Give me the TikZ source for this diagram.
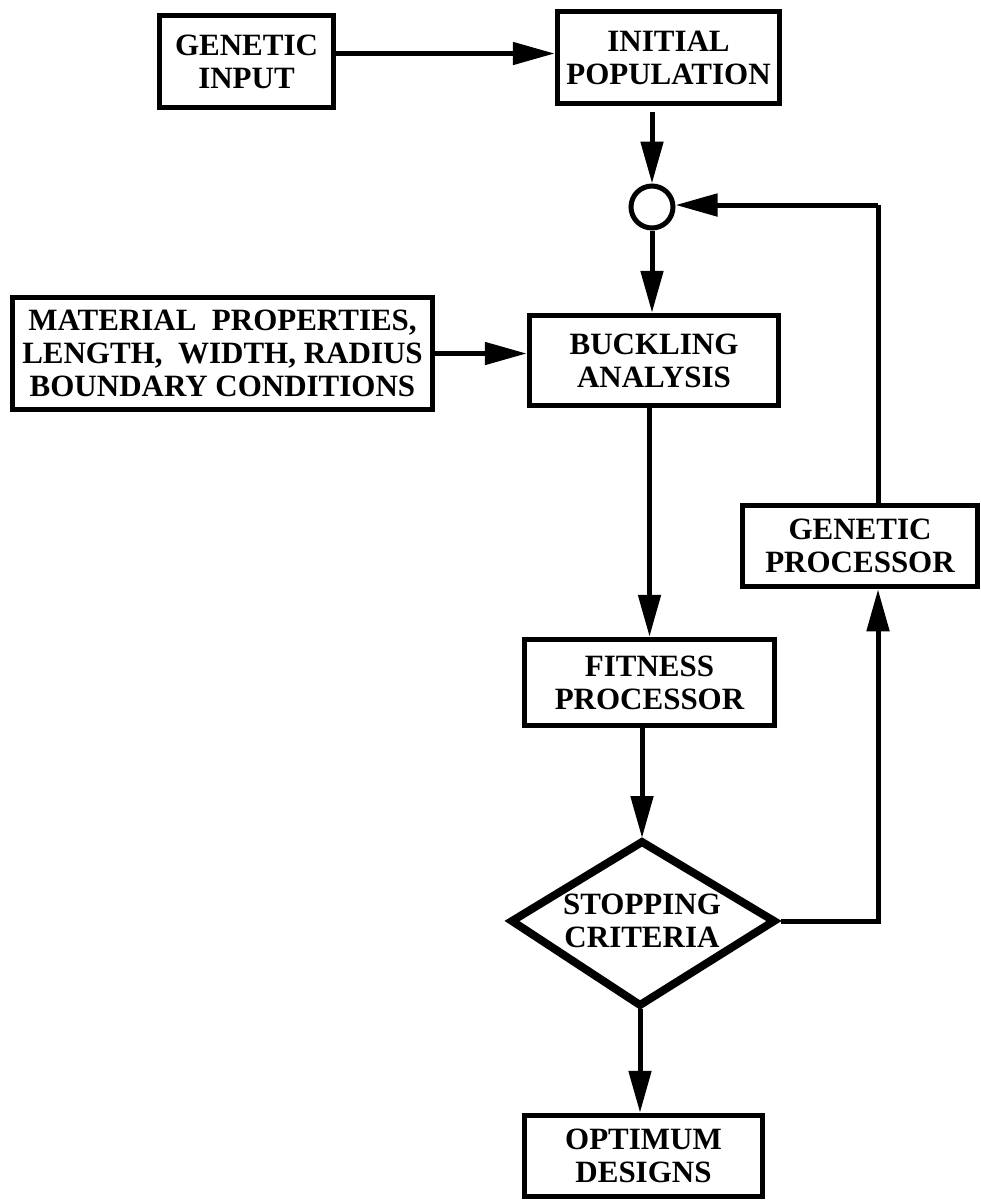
\documentclass[tikz,border=0pt]{standalone}
\usepackage{fontspec}
\setmainfont{Liberation Serif}
\usetikzlibrary{arrows.meta}
\begin{document}
\begin{tikzpicture}[x=1pt,y=-1pt,
  lbl/.style={inner sep=0pt, align=center,
    font=\bfseries\fontsize{31}{33}\selectfont},
  box/.style={lbl, draw, line width=5.5pt, rectangle},
  junc/.style={draw, line width=5pt, circle, inner sep=0pt, minimum size=42pt},
  arr/.style={line width=5pt, -{Triangle[length=42pt,width=22pt]}},
  ln/.style={line width=5pt}]
\useasboundingbox (0,0) rectangle (981,1203);
\fill[white] (0,0) rectangle (981,1203);

\node[box, minimum width=174pt, minimum height=92pt] (gin) at (246.5,61.5) {GENETIC\\INPUT};
\node[box, minimum width=222pt, minimum height=92pt] (ipop) at (668.5,57.5) {INITIAL\\POPULATION};
\node[junc] (circ) at (652,207) {};
\node[box, minimum width=420pt, minimum height=112pt] (mat) at (222.5,353.5)
  {MATERIAL\ \ PROPERTIES,\\LENGTH,\ \ WIDTH, RADIUS\\BOUNDARY CONDITIONS};
\node[box, minimum width=249pt, minimum height=90pt] (buck) at (654,360.5) {BUCKLING\\ANALYSIS};
\node[box, minimum width=235pt, minimum height=81pt] (gp) at (860,546) {GENETIC\\PROCESSOR};
\node[box, minimum width=250pt, minimum height=86pt] (fit) at (649.5,682.5) {FITNESS\\PROCESSOR};
\node[lbl] (stop) at (642,921) {STOPPING\\CRITERIA};
\coordinate (stopN) at (642,842);
\coordinate (stopS) at (640,1005);
\coordinate (stopW) at (512,921);
\coordinate (stopE) at (774,921);
\draw[line width=8pt, line join=miter] (stopN) -- (stopE) -- (stopS) -- (stopW) -- cycle;
\node[box, minimum width=238pt, minimum height=81pt] (opt) at (643.5,1156) {OPTIMUM\\DESIGNS};

\coordinate (gx) at (878,0);
\coordinate (ry) at (0,205);

\draw[arr] ([yshift=8pt]gin.east) -- ([yshift=8pt]gin.east -| ipop.west);
\draw[arr] ([yshift=-6pt]ipop.south -| circ.north) -- (circ.north);
\draw[arr] (circ.south) -- (circ.south |- buck.north);
\draw[arr] (mat.east) -- (mat.east -| buck.west);
\draw[arr] (fit.north |- buck.south) -- (fit.north);
\draw[arr] (stopN |- fit.south) -- ([yshift=4pt]stopN);
\draw[arr] ([yshift=-4pt]stopS) -- (stopS |- opt.north);
\draw[arr] ([xshift=7pt]stopE) -| (gx |- gp.south);
\draw[ln] (gx |- gp.north) -- (gx |- ry);
\draw[arr] (gx |- ry) -- (circ.east |- ry);
\end{tikzpicture}
\end{document}
